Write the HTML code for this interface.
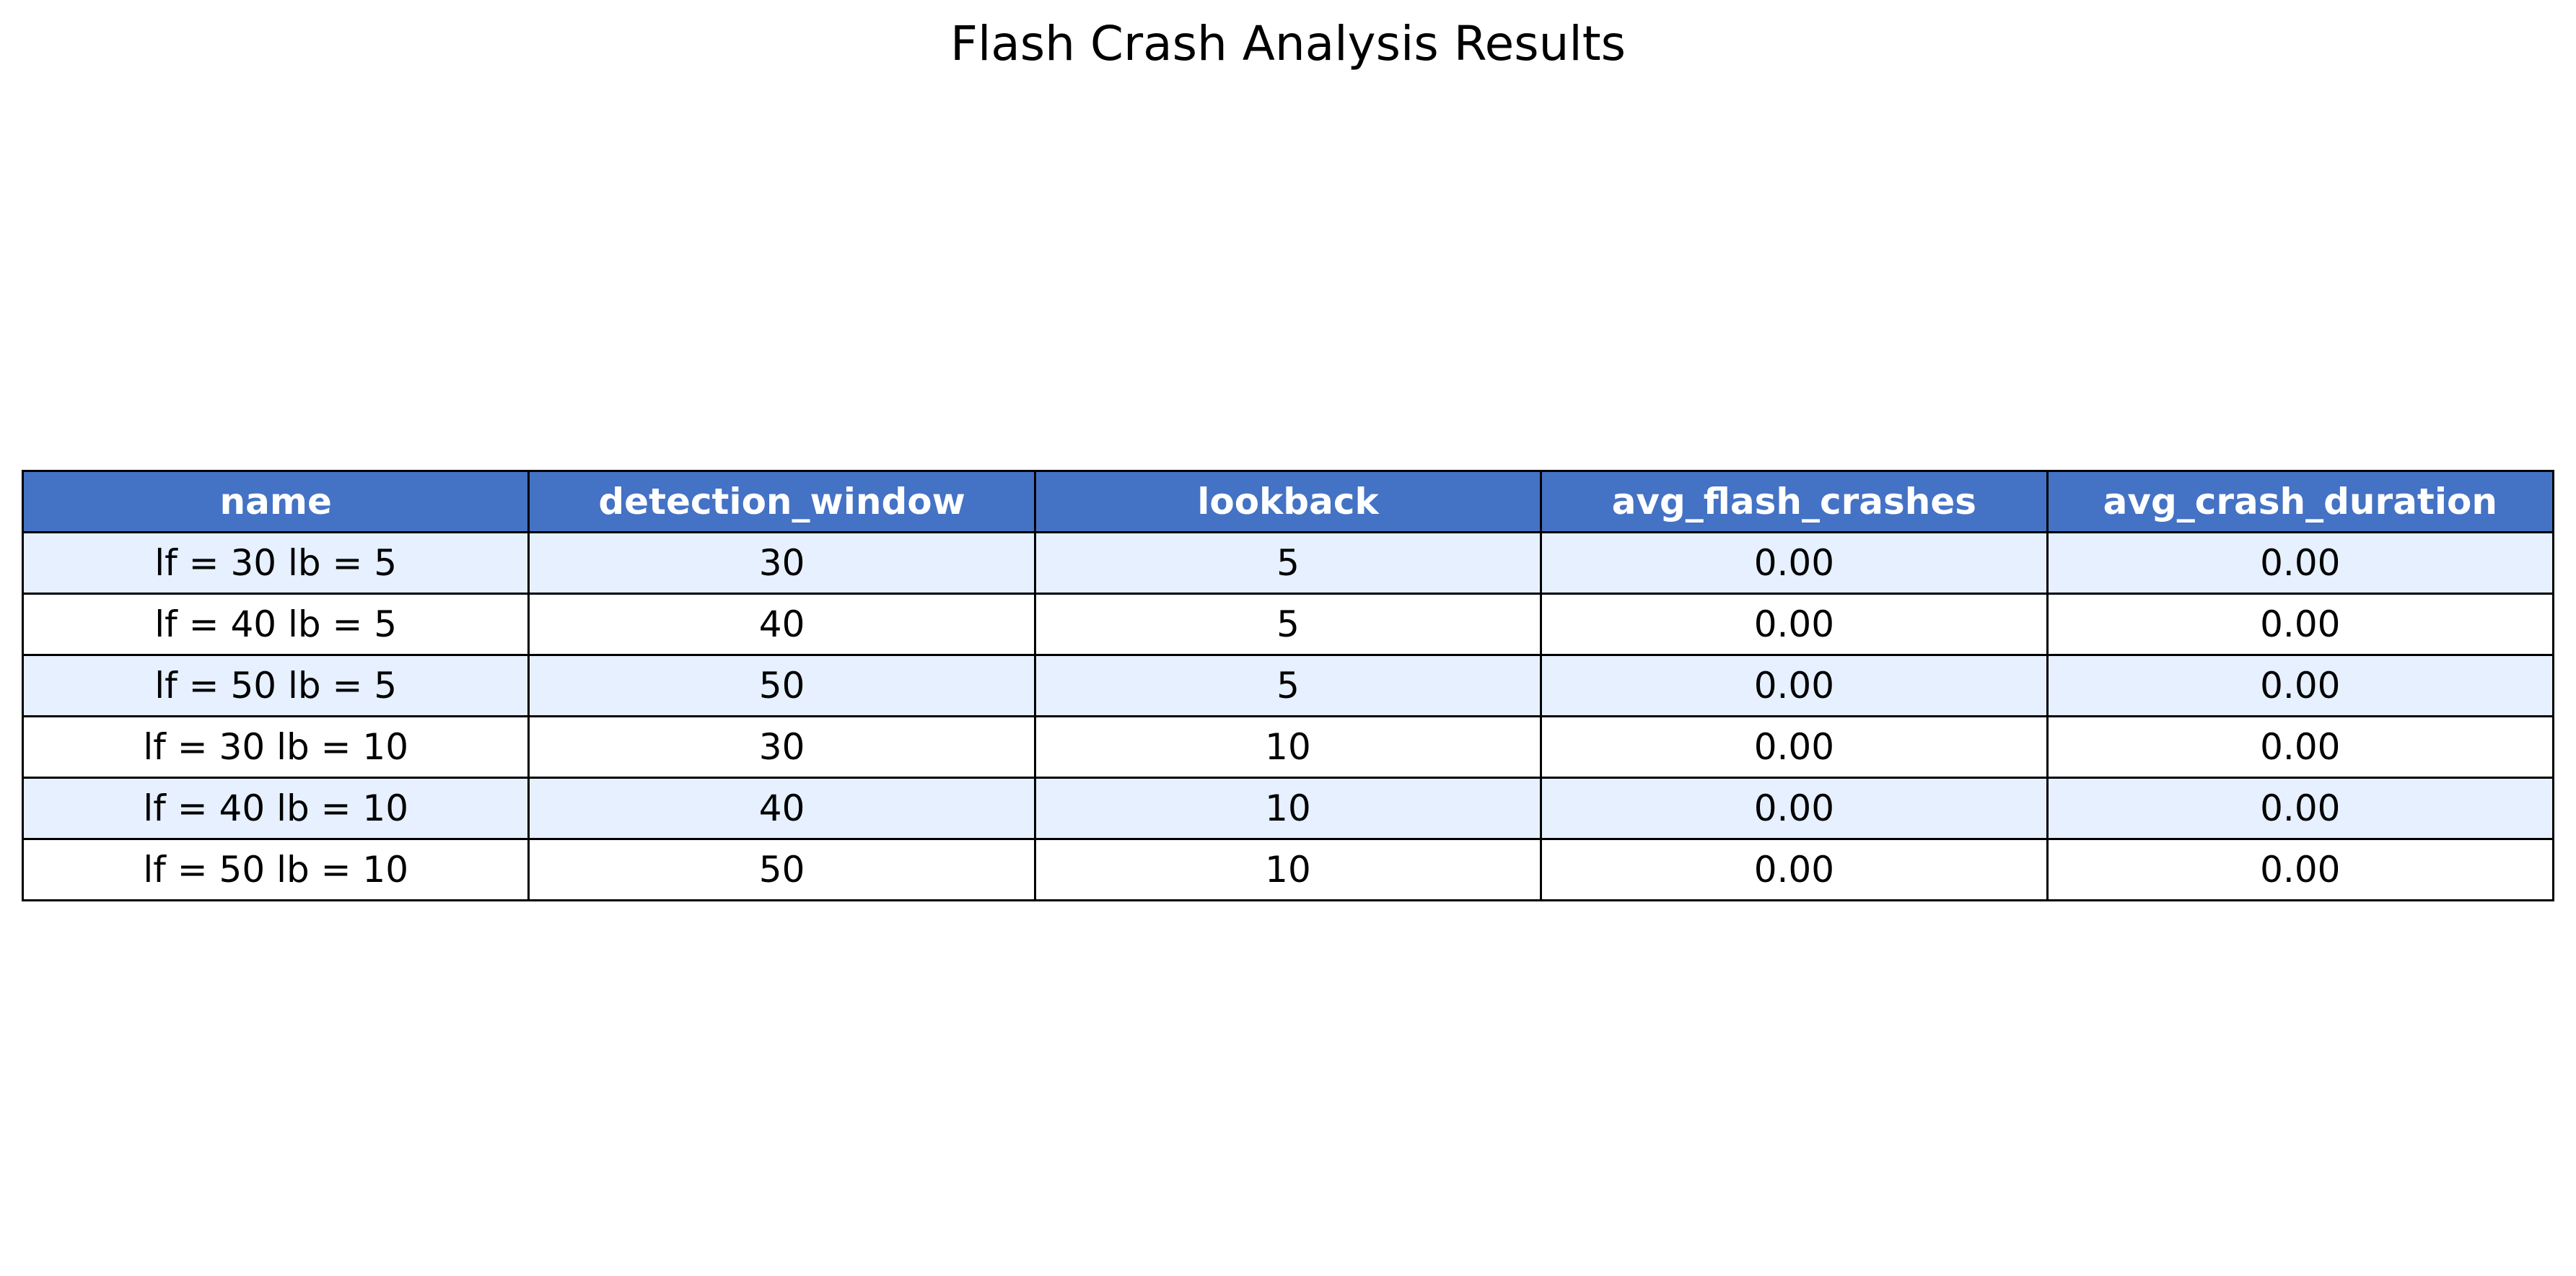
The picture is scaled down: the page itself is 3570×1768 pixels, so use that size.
<!DOCTYPE html>
<html><head><meta charset="utf-8"><style>
body{margin:0;width:3570px;height:1768px;background:#fff;position:relative;overflow:hidden;font-family:"DejaVu Sans","Liberation Sans",sans-serif;}
#title{position:absolute;left:0;width:3570px;top:22px;text-align:center;font-size:66px;color:#000;}
table{position:absolute;left:30px;top:651px;width:3510px;border-collapse:collapse;table-layout:fixed;}
td,th{border:3px solid #000;height:82px;padding:0;text-align:center;font-size:50px;color:#000;font-weight:normal;}
th{background:#4472C4;color:#fff;font-weight:bold;}
tr.alt td{background:#E6F0FE;}
</style></head><body>
<div id="title">Flash Crash Analysis Results</div>
<table>
<thead><tr>
<th>name</th>
<th>detection_window</th>
<th>lookback</th>
<th>avg_flash_crashes</th>
<th>avg_crash_duration</th>
</tr></thead>
<tbody id="tb"></tbody>
</table>
<script>
const names=["lf = 30 lb = 5","lf = 40 lb = 5","lf = 50 lb = 5","lf = 30 lb = 10","lf = 40 lb = 10","lf = 50 lb = 10"];
const detectionWindow=[30,40,50,30,40,50];
const lookback=[5,5,5,10,10,10];
const avgFlashCrashes=[0,0,0,0,0,0];
const avgCrashDuration=[0,0,0,0,0,0];
const tb=document.getElementById('tb');
names.forEach((n,i)=>{
  const tr=document.createElement('tr');
  
  
  if(i%2===0) tr.className='alt';
  const vals=[n,detectionWindow[i],lookback[i],avgFlashCrashes[i].toFixed(2),avgCrashDuration[i].toFixed(2)];
  vals.forEach(v=>{
    const td=document.createElement('td');
    
    
    td.textContent=v;
    tr.appendChild(td);
  });
  tb.appendChild(tr);
});
</script>
</body></html>
